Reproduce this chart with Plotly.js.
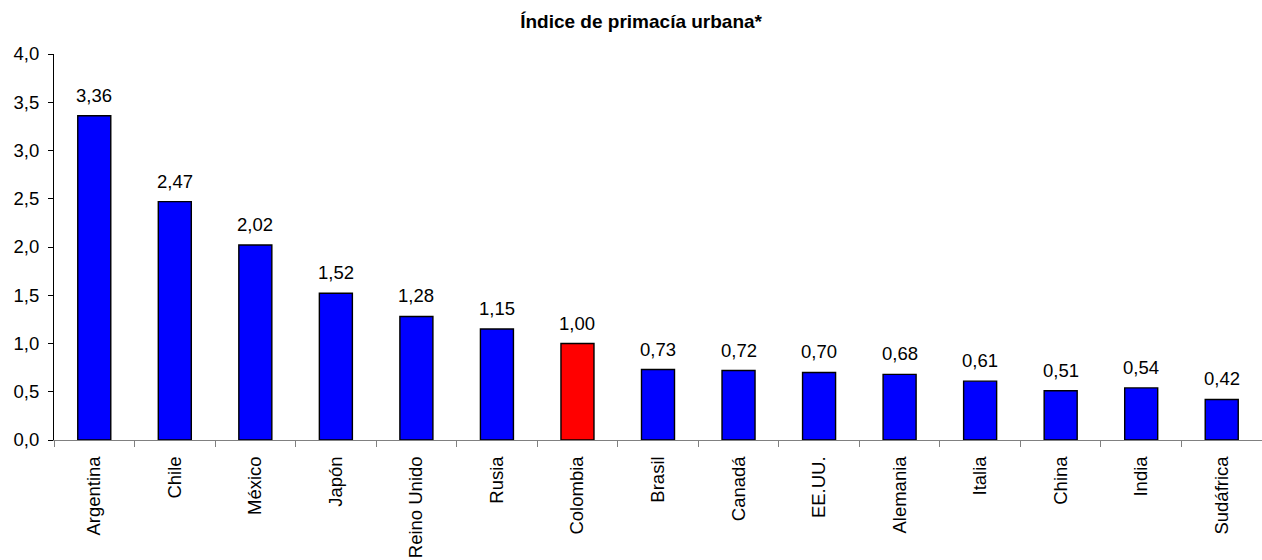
<!DOCTYPE html>
<html><head><meta charset="utf-8">
<script src="https://cdn.plot.ly/plotly-3.0.1.min.js"></script>
<style>html,body{margin:0;padding:0;background:#fff}#c{width:1262px;height:560px}</style>
</head><body><div id="c"></div>
<script>
const countries = ["Argentina","Chile","México","Japón","Reino Unido","Rusia","Colombia","Brasil","Canadá","EE.UU.","Alemania","Italia","China","India","Sudáfrica"];
const values = [3.36,2.47,2.02,1.52,1.28,1.15,1.00,0.73,0.72,0.70,0.68,0.61,0.51,0.54,0.42];
const highlight = "Colombia";
const colors = countries.map(c => c === highlight ? "#FF0000" : "#0000FF");
const FONT = "Liberation Sans, Arial, sans-serif";

const labels = countries.map((c, i) => ({
  x: c, y: values[i], xref: "x", yref: "y",
  text: values[i].toFixed(2).replace(".", ","),
  showarrow: false, yanchor: "bottom", yshift: 8,
  font: {family: FONT, size: 18.5, color: "#000"}
}));

Plotly.newPlot("c", [{
  type: "bar",
  x: countries,
  y: values,
  marker: {color: colors, line: {color: "#000", width: 1.4}},
  width: 0.41,
  hoverinfo: "none"
}], {
  width: 1262, height: 560,
  margin: {l: 54, r: 0, t: 54, b: 120, pad: 0},
  separators: ",.",
  paper_bgcolor: "#fff", plot_bgcolor: "#fff",
  font: {family: FONT, size: 18.5, color: "#000"},
  title: {text: "<b>Índice de primacía urbana*</b>", x: 0.508, xanchor: "center", y: 0.9625, yanchor: "middle",
          font: {size: 19, family: FONT, color: "#000"}},
  showlegend: false,
  annotations: labels,
  xaxis: {
    type: "category", tickangle: -90, showline: true, linecolor: "#808080", linewidth: 1,
    ticks: "outside", tickson: "boundaries", ticklen: 6, tickcolor: "#808080",
    ticklabelstandoff: 8,
    showgrid: false, zeroline: false, tickfont: {size: 18.5}, fixedrange: true
  },
  yaxis: {
    range: [0, 4], dtick: 0.5, tickformat: ".1f", showline: true, linecolor: "#000", linewidth: 1,
    ticks: "outside", ticklen: 5, tickcolor: "#000", showgrid: false, zeroline: false,
    ticklabelstandoff: 5,
    tickfont: {size: 18.5}, fixedrange: true
  }
}, {staticPlot: true});
</script></body></html>
